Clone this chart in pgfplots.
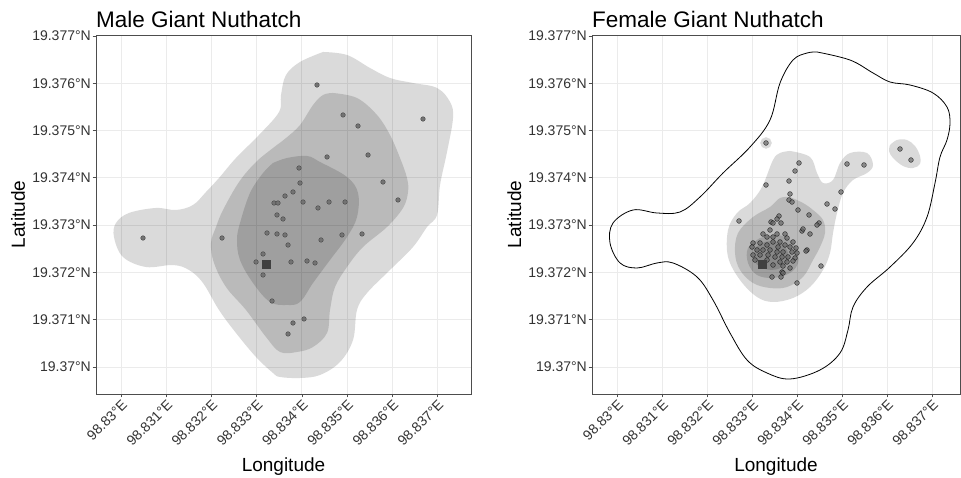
\documentclass[border=0pt]{standalone}
\usepackage{fontspec}
\setmainfont{Liberation Sans}
\usepackage{pgfplots}
\usepackage{pgfplotstable}
\pgfplotsset{compat=1.18}

\definecolor{gridgray}{HTML}{EBEBEB}
\definecolor{framegray}{HTML}{4D4D4D}
\definecolor{ticktext}{HTML}{333333}
\definecolor{kdelight}{HTML}{DADADA}

% positions are stored as offsets in thousandths of a degree:
% x = (longitude - 98.830 E)*1000, y = (latitude - 19.370 N)*1000
\pgfplotstableread{
x y
4.336 5.962
4.912 5.328
5.243 5.095
6.681 5.243
5.465 4.482
4.558 4.440
3.938 4.207
5.796 3.911
3.960 3.890
3.805 3.700
3.628 3.615
6.128 3.531
3.385 3.467
3.473 3.467
4.027 3.488
4.602 3.488
4.956 3.488
4.358 3.362
3.451 3.214
3.584 3.129
0.487 2.727
2.235 2.727
3.230 2.833
3.451 2.812
3.628 2.791
4.425 2.685
4.889 2.791
5.332 2.812
3.695 2.579
3.142 2.389
2.987 2.220
3.761 2.220
4.115 2.241
4.292 2.199
3.142 1.945
3.341 1.395
3.805 0.930
4.049 1.015
3.695 0.698
}\malepts

\pgfplotstableread{
x y
3.311 4.736
4.044 4.313
3.956 4.144
5.111 4.292
5.489 4.271
3.311 3.848
3.822 3.932
4.978 3.700
3.844 3.658
3.822 3.531
3.889 3.488
4.667 3.446
4.844 3.340
4.022 3.319
2.711 3.087
4.267 3.214
3.600 3.192
3.556 3.129
3.422 3.066
3.467 3.044
3.644 3.044
4.489 3.044
4.444 3.002
3.400 2.896
4.111 2.875
4.133 2.918
4.289 2.812
3.244 2.812
3.556 2.812
3.333 2.748
3.467 2.748
3.733 2.812
3.778 2.727
3.911 2.643
3.467 2.643
3.622 2.643
3.022 2.622
3.178 2.622
3.333 2.579
3.578 2.537
3.733 2.579
3.844 2.537
3.978 2.516
4.222 2.474
3.000 2.537
3.111 2.474
3.244 2.474
3.400 2.474
3.556 2.431
3.689 2.431
3.889 2.431
4.000 2.410
3.022 2.368
3.178 2.368
3.356 2.368
3.511 2.326
3.667 2.326
3.800 2.326
3.956 2.304
3.067 2.262
3.333 2.262
3.622 2.220
3.778 2.220
3.911 2.241
3.467 2.156
3.689 2.135
3.844 2.093
3.667 2.008
3.444 1.903
3.644 1.903
3.689 1.987
4.200 2.452
4.533 2.135
4.000 1.776
6.289 4.609
6.533 4.376
}\femalepts

\pgfplotsset{
  nutmap/.style={
    scale only axis, height=359pt,
    ymin=-0.571, ymax=7.019,
    xtick={0,...,7}, ytick={0,...,7},
    xticklabels={98.83°E,98.831°E,98.832°E,98.833°E,98.834°E,98.835°E,98.836°E,98.837°E},
    yticklabels={19.37°N,19.371°N,19.372°N,19.373°N,19.374°N,19.375°N,19.376°N,19.377°N},
    xtick pos=bottom, ytick pos=left,
    tick align=outside, major tick length=3.5pt,
    tick style={framegray, line width=0.6pt},
    axis line style={framegray, line width=0.8pt},
    xmajorgrids, ymajorgrids,
    grid style={gridgray, line width=0.8pt},
    ticklabel style={font=\fontsize{14}{15}\selectfont, text=ticktext},
    xticklabel style={rotate=45, anchor=north east, inner sep=1pt},
    yticklabel style={inner sep=1.5pt},
    title style={at={(0,1)}, anchor=base west, yshift=1pt, inner sep=0pt,
      font=\fontsize{22.5}{24}\selectfont},
    xlabel={Longitude}, ylabel={Latitude},
    xlabel style={at={([yshift=-78pt]axis description cs:0.5,0)}, anchor=base,
      inner sep=0pt, font=\fontsize{19}{20}\selectfont},
    ylabel style={at={([xshift=-71pt]axis description cs:0,0.5)}, anchor=base,
      inner sep=0pt, font=\fontsize{19}{20}\selectfont},
  },
  kde/.style={fill=black, fill opacity=0.145, draw=none, smooth, tension=0.6},
}

\begin{document}
\begin{tikzpicture}
\useasboundingbox (0,0) rectangle (961pt,478pt);

% ---- male ----
\begin{axis}[nutmap, at={(96pt,84pt)}, anchor=south west,
  width=375pt, xmin=-0.553, xmax=7.743, title={Male Giant Nuthatch}]
\addplot[kde] coordinates {
(4.469,6.660) (5.000,6.596) (5.509,6.321) (5.951,6.110) (6.460,6.004) (6.991,5.899)
(7.279,5.603) (7.345,5.264) (7.212,4.545) (7.058,3.848) (6.991,3.214) (6.770,2.960)
(6.460,2.537) (5.951,2.051) (5.442,1.564) (5.221,1.205) (5.133,0.571) (4.845,0.106)
(4.403,-0.169) (3.960,-0.233) (3.518,-0.211) (3.363,-0.127) (2.987,0.211) (2.544,0.719)
(2.168,1.205) (1.814,1.776) (1.504,2.051) (1.150,2.156) (0.553,2.114) (0.044,2.326)
(-0.155,2.748) (-0.111,3.044) (0.177,3.256) (0.774,3.362) (1.217,3.319) (1.593,3.425)
(1.881,3.700) (2.168,3.996) (2.544,4.419) (3.053,4.905) (3.496,5.391) (3.540,5.751)
(3.650,6.173) (3.960,6.448) (4.469,6.660)};
\addplot[kde] coordinates {
(4.690,5.793) (5.221,5.687) (5.664,5.328) (5.951,4.905) (6.173,4.419) (6.327,3.996)
(6.350,3.700) (6.239,3.362) (5.885,2.960) (5.354,2.537) (5.000,2.114) (4.735,1.691)
(4.624,1.205) (4.558,0.719) (4.248,0.423) (3.894,0.317) (3.518,0.317) (3.208,0.634)
(2.765,1.205) (2.323,1.691) (2.058,2.199) (1.991,2.622) (2.102,2.960) (2.257,3.319)
(2.611,3.911) (2.987,4.334) (3.363,4.630) (3.650,4.841) (3.960,5.116) (4.248,5.539)
(4.469,5.751) (4.690,5.793)};
\addplot[kde] coordinates {
(3.363,4.313) (3.673,4.419) (4.115,4.461) (4.403,4.334) (5.000,4.017) (5.243,3.679)
(5.221,3.171) (5.000,2.748) (4.624,2.262) (4.248,1.776) (3.960,1.374) (3.673,1.311)
(3.296,1.374) (2.920,1.776) (2.633,2.262) (2.566,2.685) (2.633,3.044) (2.854,3.679)
(3.142,4.101) (3.363,4.313)};
\addplot[only marks, mark=*, mark size=2.3pt,
  mark options={fill=black!55, draw=black!72, line width=0.4pt}] table {\malepts};
\addplot[only marks, mark=square*, mark size=4pt, color=black!75] coordinates {(3.208,2.178)};
\end{axis}

% ---- female ----
\begin{axis}[nutmap, at={(592pt,84pt)}, anchor=south west,
  width=368pt, xmin=-0.556, xmax=7.622, title={Female Giant Nuthatch}]
\addplot[black, line width=0.8pt, smooth, tension=0.6] coordinates {
(4.444,6.660) (5.178,6.490) (5.689,6.216) (6.067,6.025) (6.511,5.962) (7.022,5.793)
(7.333,5.497) (7.400,5.159) (7.333,4.799) (7.178,4.440) (7.067,3.890) (6.889,3.171)
(6.578,2.622) (6.067,2.114) (5.556,1.691) (5.244,1.268) (5.133,0.782) (4.956,0.296)
(4.511,-0.063) (3.844,-0.254) (3.333,-0.127) (2.889,0.148) (2.511,0.719) (2.133,1.416)
(1.778,1.903) (1.244,2.199) (0.889,2.199) (0.444,2.093) (0.067,2.199) (-0.156,2.622)
(-0.089,3.044) (0.356,3.319) (0.889,3.256) (1.400,3.277) (1.844,3.594) (2.356,4.101)
(2.956,4.651) (3.400,5.222) (3.622,6.004) (3.911,6.490) (4.222,6.638) (4.444,6.660)};
\addplot[kde] coordinates {
(3.844,4.567) (4.289,4.440) (4.444,4.101) (4.578,3.890) (4.800,3.953) (4.956,4.313)
(5.178,4.524) (5.556,4.524) (5.689,4.271) (5.556,4.101) (5.244,3.953) (5.022,3.679)
(4.889,3.256) (4.800,2.833) (4.733,2.410) (4.578,2.051) (4.289,1.691) (3.911,1.459)
(3.467,1.374) (3.111,1.480) (2.733,1.839) (2.467,2.326) (2.467,2.896) (2.667,3.256)
(2.956,3.467) (3.222,3.805) (3.467,4.376) (3.622,4.524) (3.844,4.567)};
\addplot[kde] coordinates {
(6.067,4.693) (6.222,4.799) (6.444,4.799) (6.622,4.672) (6.733,4.461) (6.733,4.292)
(6.578,4.207) (6.356,4.249) (6.133,4.419) (6.044,4.567) (6.067,4.693)};
\addplot[only marks, mark=*, mark size=5.5pt, color=kdelight,
  mark options={fill=kdelight, draw=kdelight}] coordinates {(3.311,4.736)};
\addplot[kde] coordinates {
(3.844,3.594) (4.133,3.467) (4.356,3.319) (4.578,3.108) (4.622,2.833) (4.511,2.537)
(4.356,2.262) (4.133,1.903) (3.778,1.691) (3.400,1.670) (3.022,1.776) (2.733,2.051)
(2.622,2.410) (2.689,2.833) (3.022,3.171) (3.400,3.383) (3.622,3.573) (3.844,3.594)};
\addplot[kde] coordinates {
(3.178,2.727) (3.556,2.791) (3.844,2.685) (4.000,2.474) (4.022,2.199) (3.844,1.987)
(3.467,1.882) (3.111,1.945) (2.911,2.199) (2.911,2.516) (3.178,2.727)};
\addplot[kde] coordinates {
(3.067,2.516) (3.289,2.643) (3.578,2.643) (3.778,2.474) (3.778,2.220) (3.578,2.072)
(3.289,2.072) (3.067,2.220) (3.067,2.516)};
\addplot[only marks, mark=*, mark size=2.4pt,
  mark options={fill=black!60, fill opacity=0.7, draw=black, draw opacity=0.7, line width=0.45pt}]
  table {\femalepts};
\addplot[only marks, mark=square*, mark size=4pt, color=black!75] coordinates {(3.222,2.178)};
\end{axis}
\end{tikzpicture}
\end{document}
